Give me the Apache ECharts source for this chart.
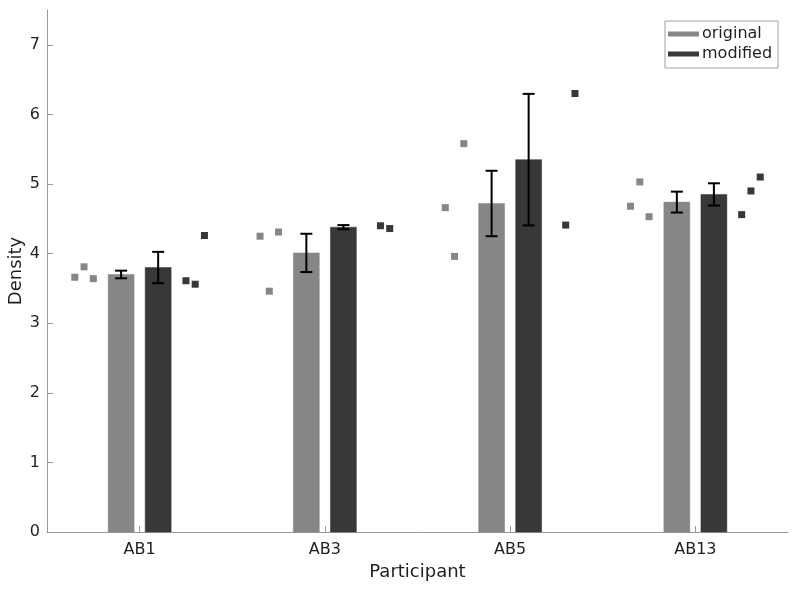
<!DOCTYPE html>
<html>
<head>
<meta charset="utf-8">
<script src="https://cdn.jsdelivr.net/npm/echarts@6/dist/echarts.min.js"></script>
<style>html,body{margin:0;padding:0;background:#fff}#chart{width:800px;height:592px}</style>
</head>
<body>
<div id="chart"></div>
<script>
// ---- data ----
const categories = ['AB1', 'AB3', 'AB5', 'AB13'];
const yTicks = [0, 1, 2, 3, 4, 5, 6, 7];
const originalMean = [3.70, 4.01, 4.72, 4.74];
const originalErr  = [0.055, 0.275, 0.47, 0.15];
const modifiedMean = [3.80, 4.38, 5.35, 4.85];
const modifiedErr  = [0.225, 0.03, 0.945, 0.16];
const originalTrials = [[3.66, 3.81, 3.64], [4.25, 3.46, 4.31], [4.66, 3.96, 5.58], [4.68, 5.03, 4.53]];
const modifiedTrials = [[3.61, 3.56, 4.26], [4.40, 4.36], [4.41, 6.30], [4.56, 4.90, 5.10]];
const originalJitter = [[-0.35, -0.30, -0.25], [-0.35, -0.30, -0.25], [-0.35, -0.30, -0.25], [-0.35, -0.30, -0.25]];
const modifiedJitter = [[0.25, 0.30, 0.35], [0.30, 0.35], [0.30, 0.35], [0.25, 0.30, 0.35]];
const barOffset = 0.1;   // group offset (category units)
const barWidth = 0.14;   // bar width (category units)

// ---- styling ----
const FONT = 'DejaVu Sans';
const COL_ORIG = '#868686';
const COL_MOD = '#383838';
const TEXT = '#1f1f1f';
const AXIS = '#9a9a9a';

const barData = (means, off) => means.map((m, i) => [i + 1 + off, m]);
const errData = (means, errs, off) => means.map((m, i) => [i + 1 + off, m - errs[i], m + errs[i]]);
const ptData = (trials, jit) => {
  const out = [];
  trials.forEach((arr, i) => arr.forEach((v, j) => out.push([i + 1 + jit[i][j], v])));
  return out;
};

function barRender(color) {
  return function (params, api) {
    const x = api.value(0), y = api.value(1);
    const a = api.coord([x - barWidth / 2, y]);
    const b = api.coord([x + barWidth / 2, 0]);
    return {
      type: 'rect',
      shape: { x: a[0], y: a[1], width: b[0] - a[0], height: b[1] - a[1] },
      style: { fill: color, stroke: color, lineWidth: 0.5 }
    };
  };
}
function errRender(params, api) {
  const x = api.value(0);
  const lo = api.coord([x, api.value(1)]);
  const hi = api.coord([x, api.value(2)]);
  const cap = 6;
  const st = { stroke: '#000', lineWidth: 2 };
  return {
    type: 'group',
    children: [
      { type: 'line', shape: { x1: lo[0], y1: lo[1], x2: hi[0], y2: hi[1] }, style: st },
      { type: 'line', shape: { x1: lo[0] - cap, y1: lo[1], x2: lo[0] + cap, y2: lo[1] }, style: st },
      { type: 'line', shape: { x1: hi[0] - cap, y1: hi[1], x2: hi[0] + cap, y2: hi[1] }, style: st }
    ]
  };
}

const chart = echarts.init(document.getElementById('chart'), null, { renderer: 'canvas' });
chart.setOption({
  animation: false,
  backgroundColor: '#fff',
  textStyle: { fontFamily: FONT },
  grid: { left: 47, right: 12, top: 10, bottom: 60, containLabel: false, outerBoundsMode: 'none' },
  legend: {
    left: 665, top: 21, orient: 'vertical',
    data: [
      { name: 'original', icon: 'rect', itemStyle: { color: COL_ORIG } },
      { name: 'modified', icon: 'rect', itemStyle: { color: COL_MOD } }
    ],
    itemWidth: 31, itemHeight: 5, itemGap: 0,
    padding: [3, 6, 4, 3],
    borderColor: '#a0a0a0', borderWidth: 1, backgroundColor: '#fff',
    textStyle: { fontFamily: FONT, fontSize: 16, color: TEXT, lineHeight: 20, padding: [0, 0, 0, -2] },
    selectedMode: false
  },
  xAxis: {
    type: 'value', min: 0.5, max: 4.5,
    name: 'Participant', nameLocation: 'middle', nameGap: 31, nameMoveOverlap: false,
    nameTextStyle: { fontFamily: FONT, fontSize: 18, color: TEXT },
    axisLine: { show: true, lineStyle: { color: AXIS, width: 1 } },
    axisTick: { show: true, inside: true, length: 6, customValues: [1, 2, 3, 4], lineStyle: { color: AXIS } },
    axisLabel: {
      customValues: [1, 2, 3, 4], fontFamily: FONT, fontSize: 16, color: TEXT, margin: 10,
      formatter: v => categories[Math.round(v) - 1] || ''
    },
    splitLine: { show: false }
  },
  yAxis: {
    type: 'value', min: 0, max: 7.5,
    name: 'Density', nameLocation: 'middle', nameGap: 22, nameRotate: 90, nameMoveOverlap: false,
    nameTextStyle: { fontFamily: FONT, fontSize: 18, color: TEXT },
    axisLine: { show: true, lineStyle: { color: AXIS, width: 1 } },
    axisTick: { show: true, inside: true, length: 6, customValues: yTicks, lineStyle: { color: AXIS } },
    axisLabel: { customValues: yTicks, fontFamily: FONT, fontSize: 16, color: TEXT, margin: 7 },
    splitLine: { show: false }
  },
  series: [
    { name: 'original', type: 'custom', renderItem: barRender(COL_ORIG), data: barData(originalMean, -barOffset), encode: { x: 0, y: 1 }, z: 2 },
    { name: 'modified', type: 'custom', renderItem: barRender(COL_MOD), data: barData(modifiedMean, barOffset), encode: { x: 0, y: 1 }, z: 2 },
    { name: 'origErr', type: 'custom', renderItem: errRender, data: errData(originalMean, originalErr, -barOffset), encode: { x: 0, y: [1, 2] }, z: 3 },
    { name: 'modErr', type: 'custom', renderItem: errRender, data: errData(modifiedMean, modifiedErr, barOffset), encode: { x: 0, y: [1, 2] }, z: 3 },
    { name: 'origPts', type: 'scatter', symbol: 'rect', symbolSize: 7, itemStyle: { color: COL_ORIG, opacity: 1 }, data: ptData(originalTrials, originalJitter), z: 4 },
    { name: 'modPts', type: 'scatter', symbol: 'rect', symbolSize: 7, itemStyle: { color: COL_MOD, opacity: 1 }, data: ptData(modifiedTrials, modifiedJitter), z: 4 }
  ]
});
</script>
</body>
</html>
